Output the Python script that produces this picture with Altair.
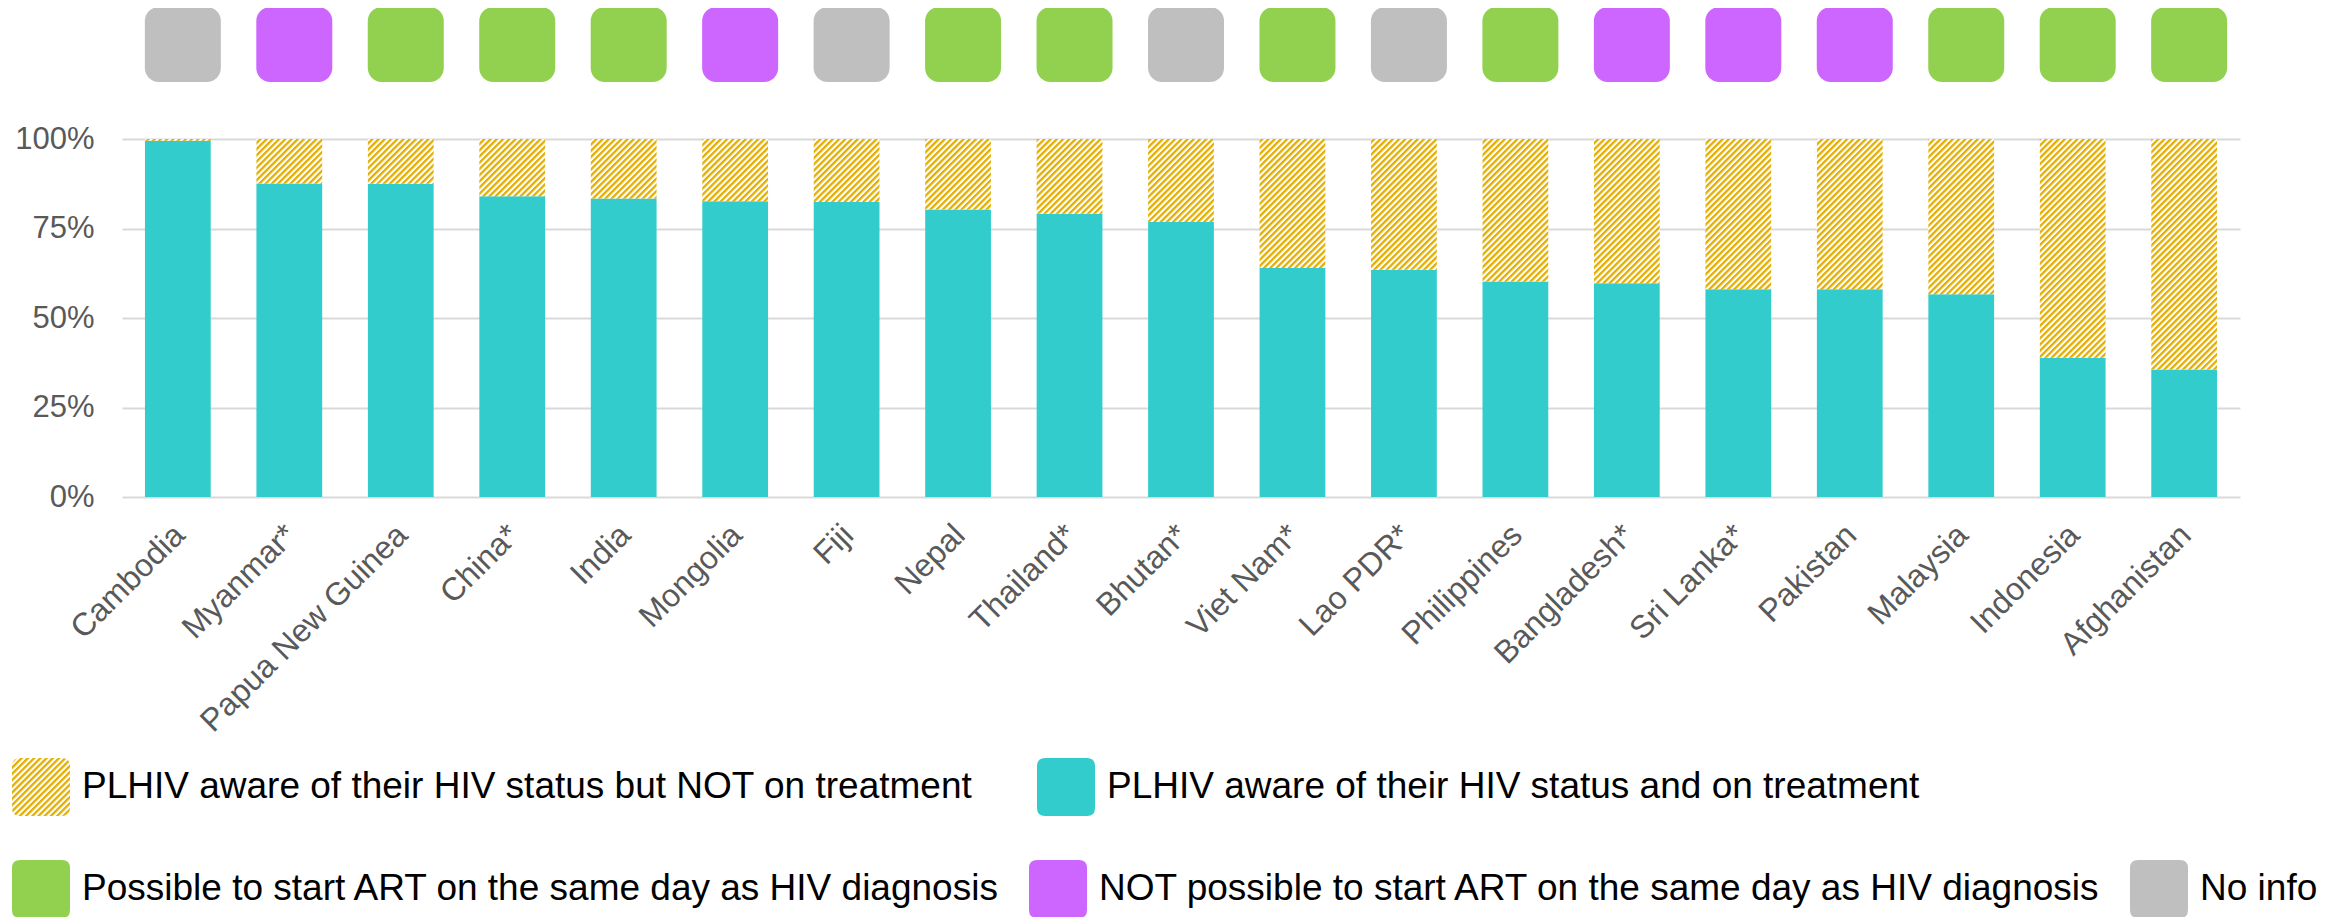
import altair as alt
import pandas as pd
import jinja2

# ---------------- data ----------------
countries = ["Cambodia", "Myanmar*", "Papua New Guinea", "China*", "India", "Mongolia",
             "Fiji", "Nepal", "Thailand*", "Bhutan*", "Viet Nam*", "Lao PDR*",
             "Philippines", "Bangladesh*", "Sri Lanka*", "Pakistan", "Malaysia",
             "Indonesia", "Afghanistan"]
# % of PLHIV aware of status who are on treatment
on_treatment = [99.5, 87.6, 87.5, 84.0, 83.4, 82.6, 82.4, 80.3, 79.1, 76.8,
                64.0, 63.5, 60.2, 59.7, 58.0, 58.0, 56.6, 38.9, 35.6]
# % aware of status (total stacked height)
aware_total = [100, 100, 100, 100, 100, 100, 100, 100, 100, 100,
               100, 100, 100, 100, 100, 100, 100, 100, 100]
# same-day ART initiation policy
same_day = ["No info", "No", "Yes", "Yes", "Yes", "No", "No info", "Yes", "Yes", "No info",
            "Yes", "No info", "Yes", "No", "No", "No", "Yes", "Yes", "Yes"]

SEG_NOT = "PLHIV aware of their HIV status but NOT on treatment"
SEG_ON = "PLHIV aware of their HIV status and on treatment"
ST_YES = "Possible to start ART on the same day as HIV diagnosis"
ST_NO = "NOT possible to start ART on the same day as HIV diagnosis"
ST_NA = "No info"
status_label = {"Yes": ST_YES, "No": ST_NO, "No info": ST_NA}

rows = []
for c, t, a in zip(countries, on_treatment, aware_total):
    rows.append({"country": c, "segment": SEG_ON, "start": 0, "end": t})
    rows.append({"country": c, "segment": SEG_NOT, "start": t, "end": a})
seg_df = pd.DataFrame(rows)
sq_df = pd.DataFrame({"country": countries, "status": [status_label[s] for s in same_day]})

FONT = "Liberation Sans"
TEAL = "#33CCCC"
GREEN = "#92D050"
PURPLE = "#CC66FF"
GREY = "#BFBFBF"
ROUNDED = ("M-0.72,-1L0.72,-1Q1,-1,1,-0.72L1,0.72Q1,1,0.72,1L-0.72,1"
           "Q-1,1,-1,0.72L-1,-0.72Q-1,-1,-0.72,-1Z")

x_scale = alt.Scale(paddingInner=0.41, paddingOuter=0.206)
x_axis = alt.Axis(labelAngle=-45, labelAlign="right", labelBaseline="top",
                  labelPadding=22, labelOffset=-9, labelFontSize=32, labelLimit=1000,
                  labelColor="#595959", labelFont=FONT, ticks=False, tickSize=0,
                  domain=False, grid=False, labelOverlap=False)

bars = alt.Chart(seg_df).mark_bar().encode(
    x=alt.X("country:N", sort=countries, scale=x_scale, title=None, axis=x_axis),
    y=alt.Y("start:Q", scale=alt.Scale(domain=[0, 100], nice=False), title=None,
            axis=alt.Axis(values=[0, 25, 50, 75, 100], labelExpr="datum.value + '%'",
                          labelFontSize=31, labelColor="#595959", labelFont=FONT,
                          labelPadding=28, ticks=False, tickSize=0, domain=False,
                          grid=True, gridColor="#D9D9D9", gridWidth=2)),
    y2="end:Q",
    color=alt.Color("segment:N",
                    scale=alt.Scale(domain=[SEG_NOT, SEG_ON], range=["url(#hatch)", TEAL]),
                    legend=alt.Legend(title=None, orient="none", legendX=-110, legendY=619,
                                      direction="horizontal", symbolType=ROUNDED,
                                      symbolSize=3364, symbolStrokeWidth=0, symbolOpacity=1,
                                      labelFontSize=37, labelFont=FONT, labelColor="black",
                                      labelLimit=3000, labelOffset=12, columnPadding=64,
                                      padding=0)),
)

squares = alt.Chart(sq_df).mark_bar(cornerRadius=14, width=76, xOffset=5).encode(
    x=alt.X("country:N", sort=countries, scale=x_scale, title=None, axis=x_axis),
    y=alt.value(-57),
    y2=alt.value(-132),
    fill=alt.Fill("status:N",
                  scale=alt.Scale(domain=[ST_YES, ST_NO, ST_NA], range=[GREEN, PURPLE, GREY]),
                  legend=alt.Legend(title=None, orient="none", legendX=-110, legendY=721,
                                    direction="horizontal", symbolType=ROUNDED,
                                    symbolSize=3364, symbolStrokeWidth=0, symbolOpacity=1,
                                    labelFontSize=37, labelFont=FONT, labelColor="black",
                                    labelLimit=3000, labelOffset=12, columnPadding=28,
                                    padding=0)),
)

chart = alt.layer(bars, squares).properties(
    width=2118, height=358,
    autosize=alt.AutoSizeParams(type="none"),
    padding={"left": 114, "top": 131, "right": 90, "bottom": 430},
).configure_view(stroke=None)

TEMPLATE = jinja2.Template("""<!DOCTYPE html>
<html>
<head>
<meta charset="utf-8">
<style>
  #{{ output_div }}.vega-embed { width: 100%; display: flex; }
  #{{ output_div }}.vega-embed details,
  #{{ output_div }}.vega-embed details summary { position: relative; }
</style>
<script type="text/javascript" src="{{ base_url }}/vega@{{ vega_version }}"></script>
<script type="text/javascript" src="{{ base_url }}/vega-lite@{{ vegalite_version }}"></script>
<script type="text/javascript" src="{{ base_url }}/vega-embed@{{ vegaembed_version }}"></script>
</head>
<body>
<svg width="0" height="0" style="position:absolute">
  <defs>
    <pattern id="hatch" patternUnits="userSpaceOnUse" width="4.4" height="4.4"
             patternTransform="rotate(45)">
      <rect x="0" y="0" width="4.4" height="4.4" fill="#FFFFFF"></rect>
      <rect x="0" y="0" width="2.3" height="4.4" fill="#E3AE00"></rect>
    </pattern>
  </defs>
</svg>
<div id="{{ output_div }}"></div>
<script type="text/javascript">
  (function(vegaEmbed) {
    var spec = {{ spec }};
    var embedOpt = {{ embed_options }};
    function showError(el, error){
      el.innerHTML = ('<div style="color:red;"><p>JavaScript Error: ' + error.message + '</p></div>');
      throw error;
    }
    const el = document.getElementById('{{ output_div }}');
    vegaEmbed("#{{ output_div }}", spec, embedOpt).catch(error => showError(el, error));
  })(vegaEmbed);
</script>
</body>
</html>
""")

chart.save("out.html", embed_options={"renderer": "svg", "actions": False}, template=TEMPLATE)
